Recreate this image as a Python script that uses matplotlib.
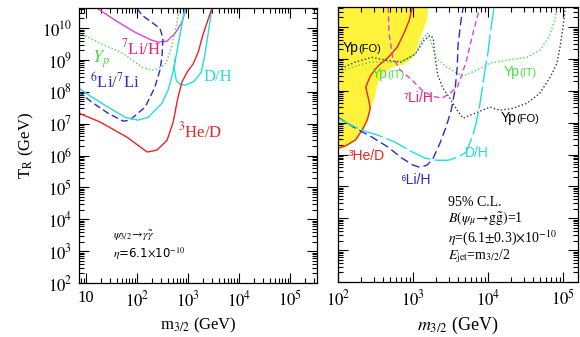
import numpy as np
import matplotlib
matplotlib.use("Agg")
import matplotlib.pyplot as plt
from matplotlib import font_manager
from matplotlib.ticker import LogLocator, FixedLocator, FixedFormatter, NullFormatter
from matplotlib.offsetbox import TextArea, HPacker, AnnotationBbox

plt.rcParams["font.family"] = ["Liberation Serif", "DejaVu Serif"]
plt.rcParams["mathtext.fontset"] = "stix"

_names = {f.name for f in font_manager.fontManager.ttflist}
NARROW = "Liberation Sans Narrow" if "Liberation Sans Narrow" in _names else "Liberation Sans"

# --- left panel: radiative decay psi_3/2 -> gamma gamma~ (log10 m, log10 T_R) ---
li7h_logm = [1.22, 1.57, 1.96, 2.29, 2.41, 2.59, 2.75, 2.88, 2.96]
li7h_logT = [10.62, 10.25, 9.87, 9.62, 9.56, 9.59, 9.84, 10.18, 10.62]

yp_logm = [0.86, 1.28, 1.73, 2.10, 2.29, 2.41, 2.57, 2.69, 2.78, 2.84]
yp_logT = [9.86, 9.52, 9.21, 8.77, 8.68, 8.71, 8.90, 9.46, 10.15, 10.62]

li6li7_logm = [2.00, 2.10, 2.29, 2.45, 2.51, 2.49, 2.45, 2.35, 2.16, 1.86, 1.73, 1.43, 1.12, 0.86]
li6li7_logT = [10.62, 10.40, 10.18, 9.99, 9.68, 9.09, 8.68, 8.14, 7.52, 7.11, 7.08, 7.33, 7.67, 7.99]

dh_logm = [0.86, 1.12, 1.43, 1.77, 2.02, 2.22, 2.49, 2.61, 2.69, 2.77, 2.84, 2.94]
dh_logT = [8.11, 7.83, 7.52, 7.20, 7.11, 7.20, 7.64, 8.05, 8.52, 9.15, 9.77, 10.62]
dh_hook_logm = [2.75, 2.73, 2.77, 2.84, 2.96, 3.12, 3.26, 3.33, 3.39, 3.47]
dh_hook_logT = [9.05, 8.74, 8.36, 8.24, 8.21, 8.33, 8.61, 9.15, 9.77, 10.62]

he3d_logm = [0.86, 1.28, 1.80, 2.20, 2.39, 2.59, 2.71, 2.80, 2.88, 2.98, 3.10, 3.20, 3.29, 3.39, 3.47]
he3d_logT = [7.33, 7.05, 6.58, 6.11, 6.17, 6.48, 7.05, 7.80, 8.30, 8.61, 8.87, 9.24, 9.77, 10.25, 10.62]

# --- right panel: hadronic decay, B_h = 1 ---
excl_logm = [2.00, 3.20, 3.19, 3.12, 3.05, 2.99, 2.88, 2.72, 2.60, 2.53, 2.49, 2.43, 2.37, 2.27, 2.13, 2.00]
excl_logT = [10.62, 10.62, 10.21, 9.81, 9.34, 9.02, 8.83, 8.74, 8.55, 8.24, 7.80, 7.39, 6.92, 6.51, 6.26, 6.14]

he3d_r_logm = [2.99, 2.95, 2.88, 2.79, 2.67, 2.53, 2.43, 2.37, 2.41, 2.43, 2.39, 2.32, 2.23, 2.09, 2.00]
he3d_r_logT = [10.62, 10.21, 9.81, 9.37, 9.05, 8.77, 8.46, 8.11, 7.71, 7.45, 7.08, 6.76, 6.45, 6.26, 6.20]

ypfo_logm = [2.00, 2.23, 2.45, 2.64, 2.84, 3.03, 3.15, 3.23, 3.27, 3.29, 3.33, 3.40, 3.49, 3.59,
             3.67, 3.83, 4.03, 4.16, 4.33, 4.52, 4.69, 4.83, 4.92, 4.96, 5.00, 5.03]
ypfo_logT = [8.65, 8.90, 9.05, 8.96, 8.90, 9.15, 9.59, 9.74, 9.65, 9.12, 8.49, 8.08, 7.77, 7.39,
             7.14, 7.30, 7.49, 7.39, 7.45, 7.61, 7.92, 8.43, 8.87, 9.37, 9.99, 10.62]

ypit_logm = [2.00, 2.23, 2.43, 2.64, 2.85, 3.03, 3.12, 3.19, 3.23, 3.31, 3.45, 3.59, 3.67,
             3.85, 4.03, 4.25, 4.52, 4.69, 4.81, 4.89, 4.92]
ypit_logT = [8.58, 8.77, 8.90, 8.90, 8.93, 9.15, 9.59, 9.81, 9.59, 9.02, 8.74, 8.55, 8.46,
             8.65, 8.87, 8.96, 9.05, 9.27, 9.68, 10.21, 10.62]

li7h_r_logm = [2.67, 2.68, 2.73, 2.83, 2.99, 3.12, 3.25, 3.39, 3.49, 3.59, 3.65, 3.72, 3.80, 3.87, 3.89]
li7h_r_logT = [10.62, 9.81, 9.05, 8.65, 8.33, 8.02, 7.83, 7.77, 7.92, 8.11, 8.49, 9.02, 9.81, 10.43, 10.62]

li6h_logm = [2.00, 2.23, 2.45, 2.67, 2.85, 3.00, 3.09, 3.19, 3.27, 3.36, 3.44, 3.51, 3.56, 3.59, 3.60, 3.64, 3.67]
li6h_logT = [7.17, 6.83, 6.55, 6.23, 5.89, 5.67, 5.60, 5.67, 5.89, 6.36, 6.86, 7.39, 8.02, 8.74, 9.43, 10.21, 10.62]

dh_r_logm = [2.00, 2.13, 2.32, 2.53, 2.76, 2.99, 3.16, 3.32, 3.47, 3.60, 3.71, 3.80, 3.85,
             3.89, 3.93, 3.96, 4.00, 4.03, 4.07, 4.08]
dh_r_logT = [7.14, 6.98, 6.76, 6.61, 6.39, 6.08, 5.89, 5.82, 5.82, 5.92, 6.08, 6.61, 7.08,
             7.55, 8.18, 8.65, 9.21, 9.81, 10.46, 10.62]

left_xticks = [1e1, 1e2, 1e3, 1e4, 1e5]
left_xticklabels = ["10", r"$10^2$", r"$10^3$", r"$10^4$", r"$10^5$"]
right_xticks = [1e2, 1e3, 1e4, 1e5]
right_xticklabels = [r"$10^2$", r"$10^3$", r"$10^4$", r"$10^5$"]
yticks = [10.0 ** k for k in range(2, 11)]
yticklabels = [r"$10^{%d}$" % k for k in range(2, 11)]

C_MAG = "#e040e0"
C_LI7TXT = "#e8206e"
C_GREEN = "#44dd44"
C_BLUE = "#2a2ad0"
C_CYAN = "#22dede"
C_RED = "#e82424"
C_YELLOW = "#fff23a"


def p(logm, logT):
    return 10.0 ** np.asarray(logm), 10.0 ** np.asarray(logT)


def style_axes(ax, xlim, xticks, xticklabels, ylabels=True):
    ax.set_xscale("log")
    ax.set_yscale("log")
    ax.set_xlim(*xlim)
    ax.set_ylim(1e2, 10 ** 10.63)
    ax.xaxis.set_major_locator(FixedLocator(xticks))
    ax.xaxis.set_major_formatter(FixedFormatter(xticklabels))
    ax.xaxis.set_minor_locator(LogLocator(base=10, subs=np.arange(2, 10), numticks=100))
    ax.xaxis.set_minor_formatter(NullFormatter())
    ax.yaxis.set_major_locator(FixedLocator(yticks))
    ax.yaxis.set_minor_locator(LogLocator(base=10, subs=np.arange(2, 10), numticks=100))
    ax.yaxis.set_minor_formatter(NullFormatter())
    if ylabels:
        ax.yaxis.set_major_formatter(FixedFormatter(yticklabels))
    else:
        ax.yaxis.set_major_formatter(NullFormatter())
    ax.tick_params(which="both", direction="in", top=True, right=True,
                   labelsize=12, width=0.8, pad=5)
    ax.tick_params(which="major", length=7)
    ax.tick_params(which="minor", length=3.5)
    for s in ax.spines.values():
        s.set_linewidth(0.9)


def yp_label(ax, x, y, tail, color):
    box = HPacker(children=[
        TextArea("Yp", textprops=dict(size=10, color=color, family=NARROW)),
        TextArea(tail, textprops=dict(size=8, color=color, family=NARROW)),
    ], align="baseline", pad=0, sep=0)
    ab = AnnotationBbox(box, (x, y), xycoords="data", frameon=False,
                        box_alignment=(0.5, 0.5), pad=0)
    ax.add_artist(ab)


fig = plt.figure(figsize=(5.8, 3.37), dpi=100)
axl = fig.add_axes([79 / 580, 1 - 283 / 337, 238 / 580, 275 / 337])
axr = fig.add_axes([338 / 580, 1 - 282 / 337, 240 / 580, 275 / 337])

# left panel
lw = 1.0
axl.plot(*p(li7h_logm, li7h_logT), color=C_MAG, lw=lw)
axl.plot(*p(yp_logm, yp_logT), color=C_GREEN, lw=lw, ls=(0, (1, 1.6)))
axl.plot(*p(li6li7_logm, li6li7_logT), color=C_BLUE, lw=lw, ls=(0, (5, 2.5)))
axl.plot(*p(dh_logm, dh_logT), color=C_CYAN, lw=lw)
axl.plot(*p(dh_hook_logm, dh_hook_logT), color=C_CYAN, lw=lw)
axl.plot(*p(he3d_logm, he3d_logT), color=C_RED, lw=lw)
style_axes(axl, (10 ** 0.863, 10 ** 5.53), left_xticks, left_xticklabels)

axl.text(120, 2.3e9, r"$^{7}$Li/H", color=C_LI7TXT, fontsize=12, ha="center", va="center")
axl.text(19.7, 1.05e9, r"$Y_p$", color=C_GREEN, fontsize=13, ha="center", va="center")
axl.text(37, 2.0e8, r"$^{6}$Li/$^{7}$Li", color=C_BLUE, fontsize=12, ha="center", va="center")
axl.text(3870, 2.9e8, "D/H", color=C_CYAN, fontsize=12, ha="center", va="center")
axl.text(1720, 5.8e6, r"$^{3}$He/D", color=C_RED, fontsize=12, ha="center", va="center")
axl.text(34, 3.0e3, r"$\psi_{3/2}\!\rightarrow\!\gamma\tilde{\gamma}$", fontsize=8.5,
         ha="left", va="center")
axl.text(34, 8.5e2, r"$\eta$=6.1$\times$10$^{-10}$", fontsize=8.5, ha="left", va="center",
         family=["DejaVu Sans"])
axl.set_xlabel(r"m$_{3/2}$ (GeV)", fontsize=12, labelpad=4)
axl.set_ylabel(r"T$_{\rm R}$ (GeV)", fontsize=12, labelpad=4)

# right panel
axr.fill(*p(excl_logm, excl_logT), color=C_YELLOW, lw=0, zorder=0)
axr.plot(*p(he3d_r_logm, he3d_r_logT), color=C_RED, lw=lw)
axr.plot(*p(ypfo_logm, ypfo_logT), color="#333333", lw=lw, ls=(0, (1, 1.6)))
axr.plot(*p(ypit_logm, ypit_logT), color=C_GREEN, lw=lw, ls=(0, (1, 1.6)))
axr.plot(*p(li7h_r_logm, li7h_r_logT), color=C_MAG, lw=lw, ls=(0, (4, 2.5)))
axr.plot(*p(li6h_logm, li6h_logT), color=C_BLUE, lw=lw, ls=(0, (6, 3)))
axr.plot(*p(dh_r_logm, dh_r_logT), color=C_CYAN, lw=lw, ls=(0, (16, 3)))
style_axes(axr, (1e2, 10 ** 5.2), right_xticks, right_xticklabels, ylabels=False)

yp_label(axr, 209, 2.16e9, "(FO)", "black")
yp_label(axr, 464, 3.3e8, "(IT)", C_GREEN)
yp_label(axr, 2.67e4, 3.8e8, "(IT)", C_GREEN)
yp_label(axr, 2.67e4, 1.38e7, "(FO)", "black")
sans = [NARROW, "DejaVu Sans"]
axr.text(1166, 5.9e7, "\u2077Li/H", color=C_LI7TXT, fontsize=10, ha="center", va="center", family=sans)
axr.text(7130, 1.1e6, "D/H", color=C_CYAN, fontsize=10, ha="center", va="center", family=sans)
axr.text(244, 8.9e5, "\u00b3He/D", color=C_RED, fontsize=10, ha="center", va="center", family=sans)
axr.text(1063, 1.6e5, "\u2076Li/H", color=C_BLUE, fontsize=10, ha="center", va="center", family=sans)

tx = 2930
axr.text(tx, 3.2e4, "95% C.L.", fontsize=10, ha="left", va="center")
axr.text(tx, 9.4e3, r"$B(\psi_{\mu}\!\rightarrow\!\mathrm{g}\tilde{\mathrm{g}})$=1", fontsize=10,
         ha="left", va="center")
axr.text(tx, 2.4e3, r"$\eta$=(6.1$\pm$0.3)$\times$10$^{-10}$", fontsize=10, ha="left", va="center")
axr.text(tx, 6.5e2, r"$E_{\rm jet}$=m$_{3/2}$/2", fontsize=10, ha="left", va="center")
axr.set_xlabel(r"$m_{3/2}$ (GeV)", fontsize=13, labelpad=4)

fig.savefig("out.png", dpi=100)
